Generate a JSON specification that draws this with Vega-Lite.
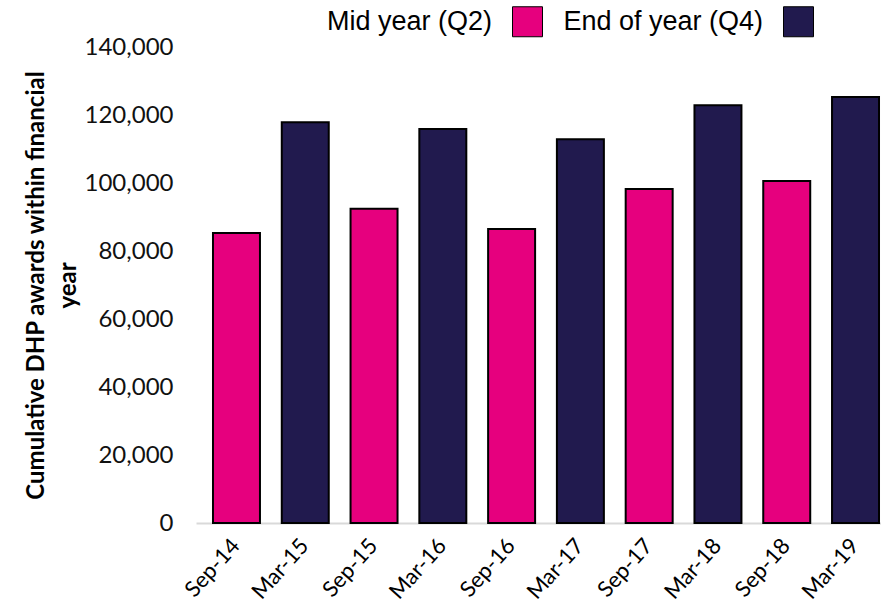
{
  "$schema": "https://vega.github.io/schema/vega-lite/v6.json",
  "autosize": "none",
  "width": 700,
  "height": 476,
  "padding": {"left": 196, "top": 47, "right": 0, "bottom": 87},
  "background": "white",
  "view": {"stroke": null},
  "data": {
    "values": [
      {"period": "Sep-14", "type": "Mid year (Q2)", "value": 85300},
      {"period": "Mar-15", "type": "End of year (Q4)", "value": 117900},
      {"period": "Sep-15", "type": "Mid year (Q2)", "value": 92400},
      {"period": "Mar-16", "type": "End of year (Q4)", "value": 115900},
      {"period": "Sep-16", "type": "Mid year (Q2)", "value": 86500},
      {"period": "Mar-17", "type": "End of year (Q4)", "value": 112900},
      {"period": "Sep-17", "type": "Mid year (Q2)", "value": 98200},
      {"period": "Mar-18", "type": "End of year (Q4)", "value": 122900},
      {"period": "Sep-18", "type": "Mid year (Q2)", "value": 100600},
      {"period": "Mar-19", "type": "End of year (Q4)", "value": 125300}
    ]
  },
  "mark": {"type": "bar", "stroke": "black", "strokeWidth": 2},
  "encoding": {
    "x": {
      "field": "period",
      "type": "nominal",
      "sort": null,
      "scale": {"paddingInner": 0.317, "paddingOuter": 0.247},
      "axis": {
        "title": null,
        "labelAngle": -48,
        "labelAlign": "right",
        "labelBaseline": "top",
        "labelPadding": 12,
        "labelOffset": -8,
        "labelFont": "Lato",
        "labelFontSize": 22,
        "labelColor": "black",
        "ticks": false,
        "domainColor": "#d9d9d9",
        "domainWidth": 2
      }
    },
    "y": {
      "field": "value",
      "type": "quantitative",
      "scale": {"domain": [0, 140000]},
      "axis": {
        "title": ["Cumulative DHP awards within financial", "year"],
        "titleFont": "Lato",
        "titleFontSize": 24,
        "titleFontWeight": "bold",
        "titleColor": "black",
        "titleLineHeight": 32,
        "titlePadding": 4,
        "values": [0, 20000, 40000, 60000, 80000, 100000, 120000, 140000],
        "format": ",d",
        "labelFont": "Lato",
        "labelFontSize": 24,
        "labelColor": "#111",
        "labelPadding": 23,
        "ticks": false,
        "domain": false,
        "grid": false
      }
    },
    "color": {
      "field": "type",
      "type": "nominal",
      "scale": {"domain": ["Mid year (Q2)", "End of year (Q4)"], "range": ["#E6007E", "#211A4E"]},
      "legend": {
        "title": null,
        "orient": "none",
        "direction": "horizontal",
        "legendX": 316,
        "legendY": -41,
        "symbolType": "square",
        "symbolSize": 900,
        "symbolStrokeColor": "black",
        "symbolStrokeWidth": 1,
        "symbolOpacity": 1,
        "labelFont": "Liberation Sans",
        "labelFontSize": 27,
        "labelColor": "black",
        "labelAlign": "right",
        "labelOffset": -51,
        "columnPadding": 18,
        "labelLimit": 400
      }
    }
  }
}
